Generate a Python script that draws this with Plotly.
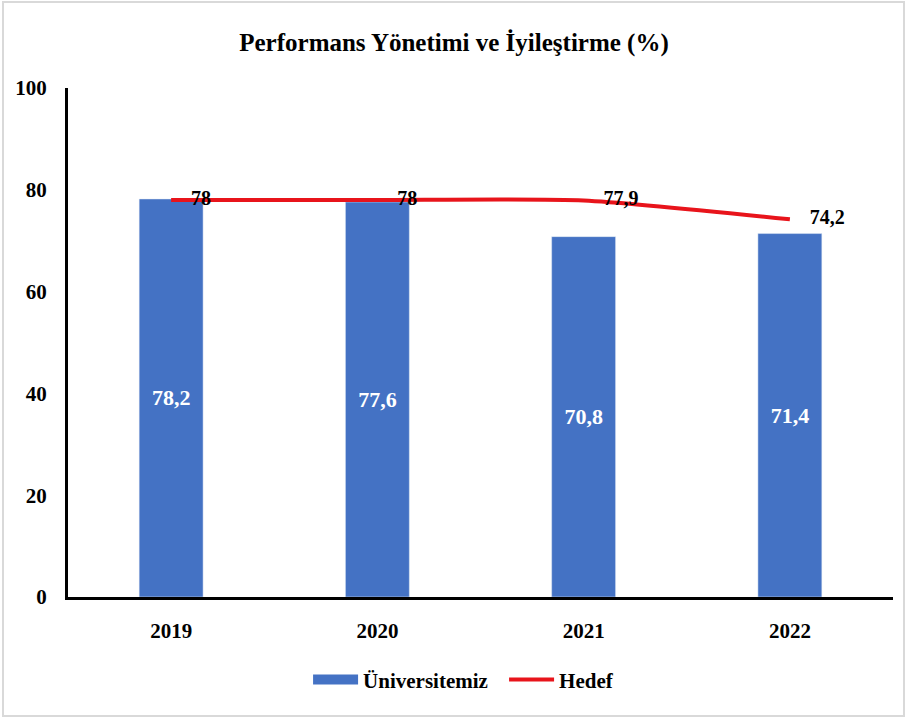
import plotly.graph_objects as go

# Data
years = ["2019", "2020", "2021", "2022"]
universite = [78.2, 77.6, 70.8, 71.4]
hedef = [78, 78, 77.9, 74.2]

def tr(v):
    # Turkish decimal comma
    s = f"{v:g}"
    return s.replace(".", ",")

font_family = "Liberation Serif, Times New Roman, serif"
blue = "#4472C4"
red = "#E8141B"

fig = go.Figure()

fig.add_trace(go.Bar(
    x=years, y=universite, name="Üniversitemiz", showlegend=False,
    marker_color=blue, width=0.31,
    text=[tr(v) for v in universite], textposition="inside",
    insidetextanchor="middle",
    textfont=dict(color="white", size=22, family=font_family, weight="bold"),
))

# legend-only entry so the bar key is a wide block like the original
fig.add_trace(go.Scatter(
    x=[None], y=[None], name="Üniversitemiz", mode="lines",
    line=dict(color=blue, width=11),
))

# transparent markers only push the labels away from the line
fig.add_trace(go.Scatter(
    x=years, y=hedef, name="Hedef", mode="lines+markers+text",
    line=dict(color=red, width=4, shape="spline", smoothing=0.6),
    marker=dict(size=30, color="rgba(0,0,0,0)"),
    text=[tr(v) for v in hedef], textposition="middle right",
    textfont=dict(color="black", size=20, family=font_family, weight="bold"),
))

fig.update_layout(
    width=908, height=721,
    paper_bgcolor="white", plot_bgcolor="white",
    font=dict(family=font_family, size=20, color="black", weight="bold"),
    title=dict(text="Performans Yönetimi ve İyileştirme (%)", x=0.5, xanchor="center",
               y=0.942, yanchor="middle",
               font=dict(size=25, family=font_family, color="black", weight="bold")),
    margin=dict(l=68, r=15, t=88, b=124),
    showlegend=True,
    legend=dict(orientation="h", x=0.291, xanchor="left", y=-0.163, yanchor="middle",
                font=dict(size=21, family=font_family, weight="bold"), traceorder="normal",
                itemwidth=45, entrywidth=136),
    bargap=0.69,
)

fig.update_yaxes(range=[0, 100], dtick=20, showgrid=False, zeroline=False,
                 showline=True, linecolor="black", linewidth=3,
                 ticks="", ticklabelstandoff=14, automargin=False,
                 tickfont=dict(size=21, family=font_family, weight="bold"))
fig.update_xaxes(showgrid=False, showline=True, linecolor="black", linewidth=3,
                 ticks="", ticklabelstandoff=13, automargin=False,
                 tickfont=dict(size=21, family=font_family, weight="bold"))

# light frame around the chart area
fig.add_shape(type="rect", xref="paper", yref="paper",
              x0=-65 / 825, x1=1 + 11 / 825, y0=-119 / 509, y1=1 + 86 / 509,
              line=dict(color="#D9D9D9", width=2), fillcolor="rgba(0,0,0,0)", layer="below")

fig.write_html("out.html", config={"displayModeBar": False},
               post_script="document.body.style.margin='0';")
